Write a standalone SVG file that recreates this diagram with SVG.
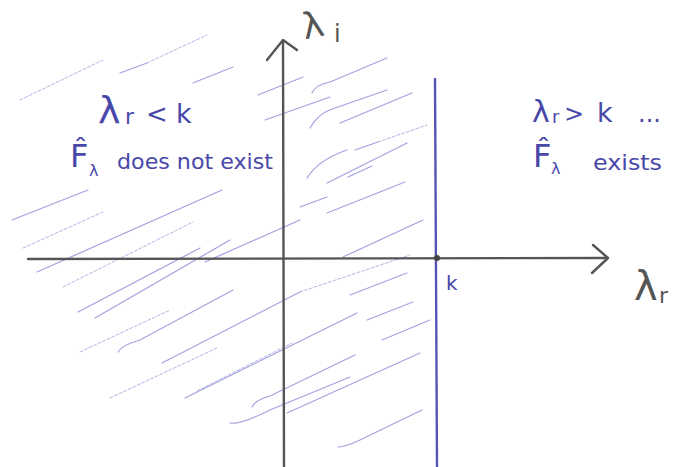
<svg xmlns="http://www.w3.org/2000/svg" width="673" height="467" viewBox="0 0 673 467">
<style>
.h{fill:none;stroke:#9292da;stroke-width:1.2;stroke-linecap:round;opacity:.85}
.f{fill:none;stroke:#b4b4e6;stroke-width:1;stroke-linecap:round;stroke-dasharray:3 2}
.ax{fill:none;stroke:#555;stroke-width:2.4;stroke-linecap:round;stroke-linejoin:round}
.bl{fill:none;stroke:#5555b5;stroke-width:2.4}
.t{font-family:"DejaVu Sans",sans-serif;fill:#4848a8}
.g{font-family:"DejaVu Sans",sans-serif;fill:#555}
</style>
<rect width="673" height="467" fill="#fff"/>
<g id="hatching">
<path class="f" d="M20,100 L103,60"/>
<path class="h" d="M120,73 L147,63"/><path class="f" d="M147,63 L207,35"/>
<path class="h" d="M193,83 L233,67"/>
<path class="h" d="M258,95 L303,77"/>
<path class="h" d="M265,120 L330,97"/>
<path class="h" d="M312,93 Q315,85 330,82 L387,58"/>
<path class="h" d="M310,128 Q318,113 335,108 L387,90"/>
<path class="h" d="M340,123 L412,93"/>
<path class="h" d="M355,150 L378,142"/><path class="f" d="M378,142 L427,125"/>
<path class="h" d="M307,178 Q318,160 347,150"/>
<path class="h" d="M327,183 L407,143"/>
<path class="h" d="M348,177 L372,166"/>
<path class="h" d="M300,207 L327,197"/>
<path class="h" d="M327,213 L405,182"/>
<path class="h" d="M12,220 L88,190"/>
<path class="f" d="M23,248 L103,212"/>
<path class="h" d="M37,272 L222,190"/>
<path class="f" d="M63,287 L193,222"/>
<path class="h" d="M78,312 L200,248"/>
<path class="h" d="M95,318 L230,240"/>
<path class="h" d="M205,262 L300,220"/>
<path class="h" d="M343,257 L423,220"/>
<path class="f" d="M80,352 L170,310"/>
<path class="h" d="M118,352 Q122,345 140,340 L233,290"/>
<path class="h" d="M162,363 L300,292"/><path class="f" d="M300,292 L410,255"/>
<path class="f" d="M110,398 L217,348"/>
<path class="h" d="M185,398 L357,313"/>
<path class="f" d="M197,391 L292,343"/>
<path class="h" d="M350,295 L407,273"/>
<path class="h" d="M367,320 L413,302"/>
<path class="h" d="M382,340 L430,320"/>
<path class="h" d="M252,407 Q255,400 270,396 L355,355"/>
<path class="h" d="M230,423 Q240,425 270,410 L350,377"/>
<path class="h" d="M287,413 L420,353"/>
<path class="h" d="M338,447 Q345,447 360,440 L422,410"/>
</g>
<g id="axes">
<path class="ax" d="M284,467 L283,42"/>
<path class="ax" d="M267,60 L283,40 L297,50"/>
<path class="ax" d="M28,259 L607,258"/>
<path class="ax" d="M593,245 L608,258 L592,273"/>
<path class="bl" d="M435,78 L437,467"/>
<circle cx="437" cy="258" r="3" fill="#444"/>
</g>
<g id="axis-labels">
<text class="g" x="302" y="37" font-size="36" transform="rotate(-12 315 25)">λ</text>
<text class="g" x="334" y="42" font-size="24">i</text>
<text class="g" font-size="40"><tspan x="634" y="300">λ</tspan><tspan x="659" y="303" font-size="22">r</tspan></text>
<text class="t" x="446" y="290" font-size="20">k</text>
</g>
<g id="left-label">
<text class="t" font-size="38"><tspan x="98" y="123">λ</tspan><tspan x="125" y="124" font-size="22">r</tspan><tspan x="146" y="123" font-size="26">&lt;</tspan><tspan x="176" y="123" font-size="27">k</tspan></text>
<text class="t" font-size="32"><tspan x="70" y="167">F̂</tspan><tspan x="89" y="176" font-size="16">λ</tspan></text>
<text class="t" x="117" y="169" font-size="22" textLength="156" lengthAdjust="spacingAndGlyphs">does not exist</text>
</g>
<g id="right-label">
<text class="t" font-size="30"><tspan x="532" y="122">λ</tspan><tspan x="552" y="123" font-size="18">r</tspan><tspan x="564" y="122" font-size="24">&gt;</tspan><tspan x="597" y="122" font-size="27">k</tspan><tspan x="638" y="122" font-size="24">...</tspan></text>
<text class="t" font-size="32"><tspan x="533" y="167">F̂</tspan><tspan x="551" y="174" font-size="16">λ</tspan></text>
<text class="t" x="593" y="170" font-size="22" textLength="69" lengthAdjust="spacingAndGlyphs">exists</text>
</g>
</svg>
